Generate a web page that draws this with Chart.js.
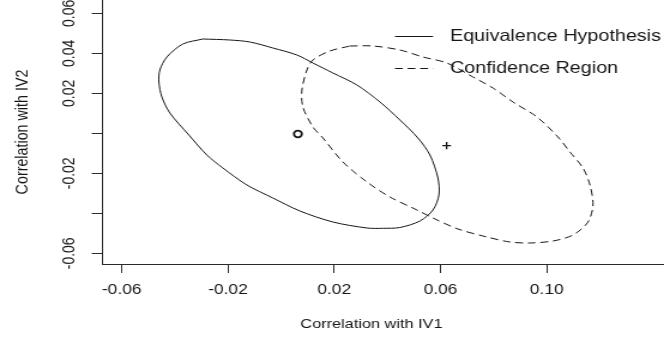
<!DOCTYPE html>
<html>
<head>
<meta charset="utf-8">
<script src="https://cdn.jsdelivr.net/npm/chart.js@4.4.0/dist/chart.umd.min.js"></script>
<style>
html,body{margin:0;padding:0;background:#fff;overflow:hidden;}
#wrap{width:554px;height:337px;transform:scaleX(1.198556);transform-origin:0 0;}
canvas{display:block;}
</style>
</head>
<body>
<div id="wrap"><canvas id="c" width="554" height="337"></canvas></div>
<script>
// ---- data ----
const xTickValues = [-0.06, -0.02, 0.02, 0.06, 0.10];
const xTickLabels = ['-0.06', '-0.02', '0.02', '0.06', '0.10'];
const yTickValues = [-0.06, -0.04, -0.02, 0, 0.02, 0.04, 0.06];
const yTickLabels = ['-0.06', '', '-0.02', '', '0.02', '0.04', '0.06'];

const seriesNames = ['Equivalence Hypothesis', 'Confidence Region'];
const xTitle = 'Correlation with IV1';
const yTitle = 'Correlation with IV2';

// Equivalence hypothesis ellipse (solid)
const equivX = [-0.02944, -0.01927, -0.01174, -0.00308, 0.00596, 0.01198, 0.01951, 0.02855, 0.03721, 0.04474,
  0.05151, 0.05603, 0.05904, 0.05942, 0.05716, 0.05227, 0.04474, 0.03834, 0.03231, 0.01951,
  0.00709, -0.00308, -0.01287, -0.02191, -0.02793, -0.03471, -0.04186, -0.04487, -0.04600, -0.04563,
  -0.04299, -0.03697, -0.02944];
const equivY = [0.04715, 0.04665, 0.04565, 0.04265, 0.03915, 0.03515, 0.03015, 0.02415, 0.01565, 0.00665,
  -0.00235, -0.01085, -0.02235, -0.03085, -0.03835, -0.04385, -0.04710, -0.04750, -0.04735, -0.04435,
  -0.03885, -0.03235, -0.02585, -0.01735, -0.01085, -0.00085, 0.01015, 0.01815, 0.02565, 0.03165,
  0.03815, 0.04465, 0.04715];

// Confidence region ellipse (dashed)
const confX = [0.02591, 0.03457, 0.04474, 0.05340, 0.06243, 0.07222, 0.07975, 0.08728, 0.09632, 0.10423,
  0.10874, 0.11364, 0.11627, 0.11740, 0.11552, 0.10987, 0.10234, 0.09368, 0.08615, 0.07749,
  0.06657, 0.05716, 0.05114, 0.04097, 0.03231, 0.02328, 0.01575, 0.01198, 0.00822, 0.00784,
  0.00972, 0.01198, 0.01838, 0.02591];
const confY = [0.04365, 0.04365, 0.04165, 0.03815, 0.03515, 0.02815, 0.02265, 0.01565, 0.00815, -0.00185,
  -0.00935, -0.01735, -0.02585, -0.03585, -0.04435, -0.05085, -0.05385, -0.05485, -0.05435, -0.05185,
  -0.04785, -0.04235, -0.03835, -0.03185, -0.02435, -0.01435, -0.00235, 0.00315, 0.01315, 0.02165,
  0.03165, 0.03665, 0.04115, 0.04365];

// centre markers: "o" (hypothesis) and "+" (estimate)
const centerX = [0.00633, 0.06232];
const centerY = [-0.00035, -0.0062];

// ---- chart ----
const INK = '#161616';
const AXIS = '#2a2a2a';
const FONT = '"Liberation Sans", Arial, sans-serif';

const toPts = (xs, ys) => xs.map((x, i) => ({x: x, y: ys[i]}));

const decor = {
  id: 'decor',
  afterDraw(chart) {
    const ctx = chart.ctx;
    const ca = chart.chartArea;
    ctx.save();
    ctx.fillStyle = INK;
    ctx.font = '13.6px ' + FONT;
    ctx.textAlign = 'center';
    ctx.textBaseline = 'middle';
    ctx.fillText(xTitle, ca.left + (ca.right - ca.left) * 0.479, 324);
    // legend
    const lx0 = 329.6, lx1 = 361.3, tx = 375.4, ly = [36.5, 68.5];
    chart.data.datasets.slice(0, 2).forEach((ds, i) => {
      ctx.strokeStyle = ds.borderColor;
      ctx.lineWidth = 1;
      ctx.setLineDash(ds.borderDash || []);
      ctx.beginPath();
      ctx.moveTo(lx0, ly[i]);
      ctx.lineTo(lx1, ly[i]);
      ctx.stroke();
      ctx.setLineDash([]);
      ctx.font = '16.5px ' + FONT;
      ctx.textAlign = 'left';
      ctx.textBaseline = 'middle';
      ctx.fillStyle = INK;
      ctx.fillText(ds.label, tx, ly[i]);
    });
    ctx.restore();
  }
};

new Chart(document.getElementById('c'), {
  type: 'scatter',
  data: {
    datasets: [
      {label: seriesNames[0], data: toPts(equivX, equivY), showLine: true, borderColor: INK, borderWidth: 1,
       pointRadius: 0, tension: 0.3, fill: false},
      {label: seriesNames[1], data: toPts(confX, confY), showLine: true, borderColor: INK, borderWidth: 1,
       borderDash: [6.5, 4], pointRadius: 0, tension: 0.3, fill: false},
      {label: 'o', data: [{x: centerX[0], y: centerY[0]}], pointStyle: 'circle', pointRadius: 3.3,
       borderWidth: 1.8, borderColor: INK, backgroundColor: 'rgba(0,0,0,0)', showLine: false},
      {label: '+', data: [{x: centerX[1], y: centerY[1]}], pointStyle: 'cross', pointRadius: 3.6,
       borderWidth: 1.3, borderColor: INK, showLine: false}
    ]
  },
  options: {
    responsive: false,
    animation: false,
    devicePixelRatio: 1,
    layout: {padding: 0, autoPadding: false},
    plugins: {legend: {display: false}, tooltip: {enabled: false}, title: {display: false}},
    scales: {
      x: {
        type: 'linear', position: 'bottom', min: -0.06723, max: 0.14414,
        afterBuildTicks: s => { s.ticks = xTickValues.map(v => ({value: v})); },
        afterFit: s => { s.height = 73; s.paddingLeft = 0; s.paddingRight = 0; },
        ticks: {autoSkip: false, maxRotation: 0, minRotation: 0, padding: 8.4, color: INK,
          font: {family: FONT, size: 14.5}, callback: (v, i) => xTickLabels[i]},
        grid: {drawOnChartArea: false, drawTicks: true, tickLength: 9, tickColor: AXIS, tickWidth: 1},
        border: {display: true, color: AXIS, width: 1}
      },
      y: {
        type: 'linear', position: 'left', min: -0.06535, max: 0.06665,
        afterBuildTicks: s => { s.ticks = yTickValues.map(v => ({value: v})); },
        afterFit: s => { s.width = 85.5; s.paddingTop = 0; s.paddingBottom = 0; },
        ticks: {autoSkip: false, minRotation: 90, maxRotation: 90, crossAlign: 'center', padding: 2.8,
          color: INK, font: {family: FONT, size: 14}, callback: (v, i) => yTickLabels[i]},
        grid: {drawOnChartArea: false, drawTicks: true, tickLength: 9, tickColor: AXIS, tickWidth: 1},
        border: {display: true, color: AXIS, width: 1},
        title: {display: true, text: yTitle, color: INK, font: {family: FONT, size: 14.3},
          padding: {top: 10, bottom: 0}}
      }
    }
  },
  plugins: [decor]
});
</script>
</body>
</html>
